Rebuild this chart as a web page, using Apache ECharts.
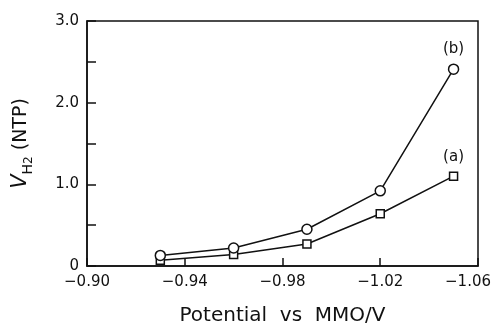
<!DOCTYPE html>
<html>
<head>
<meta charset="utf-8">
<script src="https://cdn.jsdelivr.net/npm/echarts@6/dist/echarts.min.js"></script>
<style>
  html, body { margin: 0; padding: 0; background: #fff; }
  #chart { width: 491px; height: 327px; }
</style>
</head>
<body>
<div id="chart"></div>
<script>
// potential (V vs MMO) and hydrogen volume
const potentials = [-0.93, -0.96, -0.99, -1.02, -1.05];
const seriesA = [0.07, 0.14, 0.27, 0.64, 1.10];
const seriesB = [0.13, 0.22, 0.45, 0.92, 2.41];
const xTicks = [-0.90, -0.94, -0.98, -1.02, -1.06];
const yTicks = [0, 1, 2, 3];
const yMinorTicks = [0.5, 1.5, 2.5];

const FONT = '"DejaVu Sans", sans-serif';
const INK = '#111';

const chart = echarts.init(document.getElementById('chart'));

const toPairs = ys => potentials.map((x, i) => [x, ys[i]]);

function lastLabel(text) {
    return {
        show: true,
        position: 'top',
        distance: 7,
        formatter: p => (p.dataIndex === potentials.length - 1 ? text : ''),
        color: INK,
        fontFamily: FONT,
        fontSize: 15
    };
}

chart.setOption({
    backgroundColor: '#fff',
    animation: false,
    grid: {
        left: 87, right: 13, top: 21, bottom: 61,
        outerBoundsMode: 'none',
        containLabel: false,
        show: true,
        borderColor: INK,
        borderWidth: 1.5
    },
    xAxis: {
        type: 'value',
        inverse: true,
        min: -1.06,
        max: -0.90,
        name: 'Potential  vs  MMO/V',
        nameLocation: 'middle',
        nameGap: 40,
        nameTextStyle: { color: INK, fontFamily: FONT, fontSize: 20 },
        axisLine: { show: true, lineStyle: { color: INK, width: 1.5 } },
        axisTick: {
            show: true, inside: true, length: 8,
            customValues: xTicks,
            lineStyle: { color: INK, width: 1.5 }
        },
        axisLabel: {
            customValues: xTicks,
            color: INK, fontFamily: FONT, fontSize: 15, margin: 9,
            overflow: 'none',
            hideOverlap: false,
            // the last label sits against the page edge, nudge it left
            formatter: v => {
                const s = '\u2212' + Math.abs(v).toFixed(2);
                return v <= -1.059 ? '{last|' + s + '}' : s;
            },
            rich: {
                last: { fontFamily: FONT, fontSize: 15, color: INK, padding: [0, 20, 0, 0] }
            }
        },
        splitLine: { show: false }
    },
    yAxis: {
        type: 'value',
        min: 0,
        max: 3,
        name: '{v|V}{sub|H}{sub2|2}{n| (NTP)}',
        nameLocation: 'middle',
        nameGap: 52,
        nameRotate: 90,
        nameTextStyle: {
            color: INK, fontFamily: FONT, fontSize: 19,
            rich: {
                v: { fontFamily: FONT, fontSize: 21, fontStyle: 'italic', color: INK },
                sub: { fontFamily: FONT, fontSize: 14, color: INK, verticalAlign: 'bottom', padding: [10, 0, 0, 0] },
                sub2: { fontFamily: FONT, fontSize: 12, color: INK, verticalAlign: 'bottom', padding: [16, 0, 0, 0] },
                n: { fontFamily: FONT, fontSize: 19, color: INK }
            }
        },
        axisLine: { show: true, lineStyle: { color: INK, width: 1.5 } },
        axisTick: {
            show: true, inside: true, length: 9,
            customValues: yTicks.concat(yMinorTicks),
            lineStyle: { color: INK, width: 1.5 }
        },
        axisLabel: {
            customValues: yTicks,
            color: INK, fontFamily: FONT, fontSize: 15, margin: 8,
            formatter: v => (v === 0 ? '0' : v.toFixed(1))
        },
        splitLine: { show: false }
    },
    series: [
        {
            name: '(a)',
            type: 'line',
            data: toPairs(seriesA),
            symbol: 'rect',
            symbolSize: 8,
            showAllSymbol: true,
            lineStyle: { color: INK, width: 1.5 },
            itemStyle: { color: '#fff', borderColor: INK, borderWidth: 1.5 },
            label: lastLabel('(a)'),
            z: 3
        },
        {
            name: '(b)',
            type: 'line',
            data: toPairs(seriesB),
            symbol: 'circle',
            symbolSize: 10,
            showAllSymbol: true,
            lineStyle: { color: INK, width: 1.5 },
            itemStyle: { color: '#fff', borderColor: INK, borderWidth: 1.5 },
            label: lastLabel('(b)'),
            z: 4
        }
    ]
});
</script>
</body>
</html>
